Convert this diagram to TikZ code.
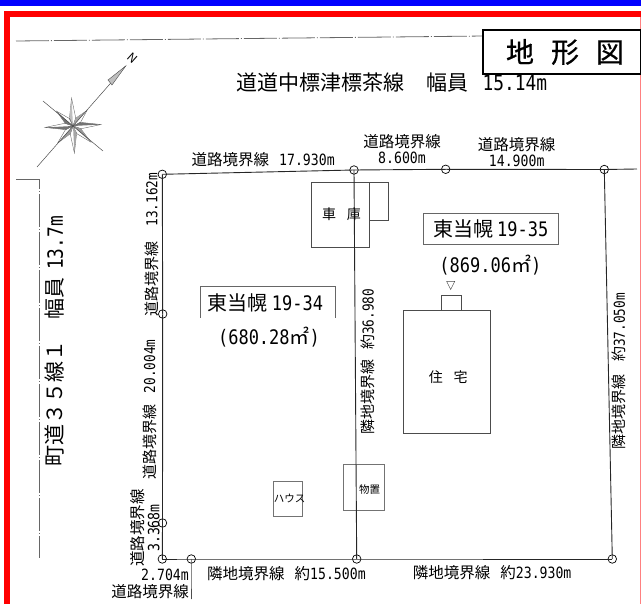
\documentclass[tikz,border=0pt]{standalone}
\usepackage{fontspec}
\setmainfont{Noto Sans CJK JP}
\newfontfamily\numf[FakeStretch=0.85]{DejaVu Sans Mono}
\newfontfamily\titlef[FakeBold=0.6]{Noto Sans CJK JP}
\usetikzlibrary{calc}
\definecolor{barblue}{RGB}{0,0,255}
\definecolor{barred}{RGB}{255,0,0}
\tikzset{
  boundary/.style={line width=0.9pt,draw=black!85},
  roadline/.style={line width=0.8pt,draw=black!60,dash pattern=on 33pt off 2pt on 1pt off 2pt},
  thinbox/.style={line width=0.7pt,draw=black!70},
  node-ring/.style={circle,draw=black,line width=0.7pt,minimum size=8.5pt,inner sep=0pt},
  edgelabel/.style={inner sep=0pt,font=\fontsize{15.5}{16}\selectfont},
  edgestack/.style={edgelabel,align=center},
  sidelabel/.style={edgelabel,font=\fontsize{15}{16}\selectfont,rotate=90,anchor=west},
  roadlabel/.style={inner sep=0pt,font=\fontsize{21}{22}\selectfont},
  lotlabel/.style={inner sep=0pt,font=\fontsize{20}{22}\selectfont},
  roomlabel/.style={inner sep=0pt,font=\fontsize{14}{15}\selectfont},
  smalllabel/.style={inner sep=0pt,font=\fontsize{10.5}{11}\selectfont},
  titlebox/.style={draw=black,line width=1.5pt,fill=white,inner sep=0pt,
    minimum width=158pt,minimum height=44pt,font=\fontsize{28}{30}\titlef}
}
\begin{document}
\begin{tikzpicture}[x=1pt,y=-1pt]
  \useasboundingbox (0,0) rectangle (641,604);

  % frame
  \fill[barblue] (0,0) rectangle (641,6);
  \fill[barred] (4,11) rectangle (641,17);
  \fill[barred] (4,11) rectangle (10,604);
  \draw[barred!50,line width=0.8pt] (640.4,17) -- (640.4,604);

  % roads
  \coordinate (road-a) at (16,41);
  \coordinate (road-b) at (485,36);
  \coordinate (side-a) at (16,179);
  \coordinate (side-b) at (39,179);
  \coordinate (side-c) at (39,558);
  \draw[roadline] (road-a) -- (road-b);
  \draw[roadline] (side-a) -- (side-b) -- (side-c);

  \node[titlebox] (title) at (562,52) {\hspace*{6pt}地\hspace{17pt}形\hspace{17pt}図};
  \node[roadlabel,anchor=west] (road-north) at (236.5,83)
    {道道中標津標茶線\hspace{22pt}幅員\hspace{14pt}{\numf 15.14m}};
  \node[roadlabel,rotate=90,anchor=west] (road-west) at (55,467)
    {町道３５線１\hspace{21pt}幅員\hspace{8pt}{\numf 13.7m}};

  % compass
  \begin{scope}[shift={(73,126)}]
    \foreach \a/\r/\c in {-93/28/black!25,-48/21/black!35,-3/28/black!55,42/24/black!40,
                          87/27/black!35,132/23/black!40,177/28/black!55,-138/22/black!55}{
      \draw[line width=0.35pt,draw=black!65] (0,0) -- (\a+24:8) -- (\a:\r) -- (\a-24:8) -- cycle;
      \fill[\c] (0,0) -- (\a:\r) -- (\a-24:8) -- cycle;
    }
    \draw[line width=0.5pt,draw=black!70] (-36,41) -- (52.7,-60);
    \draw[line width=0.5pt,draw=black!70] (-30,-25) -- (30,25);
    \draw[line width=0.4pt,draw=black!70,fill=black!25] (52.7,-60) -- (35,-46) -- (39,-41) -- cycle;
    \node[inner sep=0pt,rotate=-42,font=\fontsize{12}{12}\selectfont] (north) at (59.5,-68) {N};
  \end{scope}

  % buildings
  \draw[thinbox] (311,182.3) rectangle (369.3,247.3);
  \draw[thinbox] (369.3,182.3) rectangle (388.7,220.7);
  \draw[thinbox] (403.3,310) rectangle (490.3,433.3);
  \draw[thinbox] (441.7,295.3) rectangle (461.7,310);
  \draw[thinbox,draw=black!55] (273.3,481.3) rectangle (302.7,516);
  \draw[thinbox,draw=black!55] (343.3,464.3) rectangle (384.3,510.3);
  \draw[line width=0.5pt,draw=black!70] (446.7,281.5) -- (454.7,281.5) -- (450.7,289.5) -- cycle;

  % boundary points
  \node[node-ring] (corner-nw) at (162.3,174.3) {};
  \node[node-ring] (top-a) at (354,170) {};
  \node[node-ring] (top-b) at (445.7,169.3) {};
  \node[node-ring] (corner-ne) at (604.3,169.5) {};
  \node[node-ring] (left-a) at (162.7,314) {};
  \node[node-ring] (left-b) at (162.5,523) {};
  \node[node-ring] (corner-sw) at (162.3,559) {};
  \node[node-ring] (bottom-a) at (191.3,559) {};
  \node[node-ring] (bottom-b) at (356.7,559) {};
  \node[node-ring] (corner-se) at (612.3,559) {};
  \coordinate (top-end) at (637,169);
  \coordinate (tick-end) at (191.5,599);

  \draw[boundary] (corner-nw.center) -- (top-a.center) -- (top-b.center) -- (corner-ne.center) -- (top-end);
  \draw[boundary] (corner-nw.center) -- (left-a.center) -- (left-b.center) -- (corner-sw.center);
  \draw[boundary] (corner-sw.center) -- (bottom-a.center) -- (bottom-b.center) -- (corner-se.center);
  \draw[boundary] (corner-ne.center) -- (corner-se.center);
  \draw[boundary] (top-a.center) -- (bottom-b.center);
  \draw[line width=0.6pt,draw=black!70] (bottom-a.center) -- (tick-end);

  % lot names
  \node[lotlabel,draw=black!60,line width=0.6pt,minimum width=135pt,minimum height=31.4pt] (lot-east) at (490.8,229)
    {東当幌\hspace{4pt}{\numf 19-35}\hspace{5.6pt}};
  \node[lotlabel] (area-east) at (490.3,265) {{\numf (869.06}㎡{\numf )}};
  \draw[line width=0.6pt,draw=black!60] (200.7,317.7) -- (200.7,286.7) -- (335.7,286.7) -- (335.7,317.7);
  \node[lotlabel] (lot-west) at (265.5,303.3) {東当幌\hspace{4pt}{\numf 19-34}};
  \node[lotlabel] (area-west) at (269,336.7) {{\numf (680.28}㎡{\numf )}};

  \node[roomlabel] (garage) at (341.5,214.3) {車\hspace{10.7pt}庫};
  \node[roomlabel] (house) at (448.3,376.7) {住\hspace{10.7pt}宅};
  \node[smalllabel] (hut) at (289.5,498.3) {ハウス};
  \node[smalllabel] (shed) at (369.7,489.3) {物置};

  % boundary labels
  \node[edgelabel,anchor=west] (len-top-a) at (191.5,160) {道路境界線\hspace{10pt}{\numf 17.930m}};
  \node[edgestack] (len-top-b) at (402,149) {道路境界線\\{\numf 8.600m}};
  \node[edgestack] (len-top-c) at (516.7,152.5) {道路境界線\\{\numf 14.900m}};
  \node[sidelabel] (len-left-a) at (151.7,316.7) {道路境界線\hspace{15pt}{\numf 13.162m}};
  \node[sidelabel] (len-left-b) at (149.5,480) {道路境界線\hspace{11.5pt}{\numf 20.004m}};
  \node[edgestack,rotate=90] (len-left-c) at (145,528) {道路境界線\\{\numf 3.368m}};
  \node[sidelabel] (len-mid) at (368,435) {隣地境界線\hspace{10pt}約{\numf 36.980}};
  \node[sidelabel] (len-right) at (619.3,450) {隣地境界線\hspace{13pt}約{\numf 37.050m}};
  \node[edgelabel,anchor=west] (len-bottom-a) at (207,574) {隣地境界線\hspace{10pt}約{\numf 15.500m}};
  \node[edgelabel,anchor=west] (len-bottom-b) at (412.7,572.3) {隣地境界線\hspace{10pt}約{\numf 23.930m}};
  \node[edgelabel,anchor=east] (len-corner-a) at (189,575) {\numf 2.704m};
  \node[edgelabel,anchor=east] (len-corner-b) at (189,592) {道路境界線};
\end{tikzpicture}
\end{document}
